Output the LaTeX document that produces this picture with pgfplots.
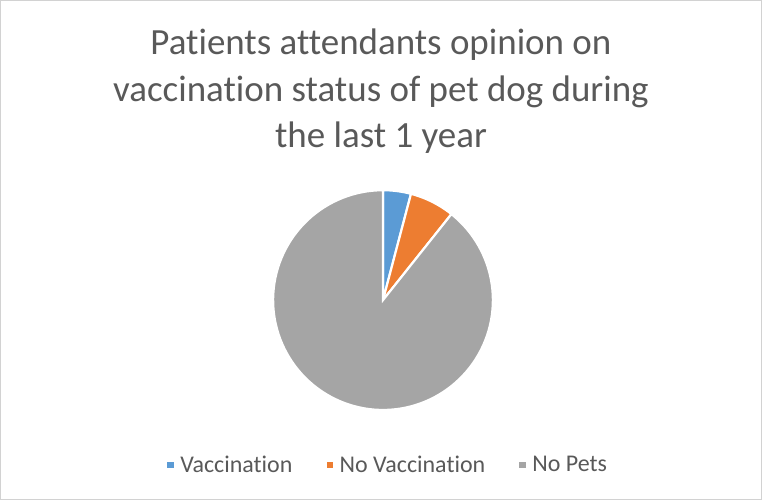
\documentclass[border=0pt]{standalone}
\usepackage{pgfplots}
\pgfplotsset{compat=1.18}
\usepackage{fontspec}
\setmainfont[Ligatures=NoCommon]{Carlito}
\definecolor{cblue}{HTML}{5B9BD5}
\definecolor{corange}{HTML}{ED7D31}
\definecolor{cgray}{HTML}{A5A5A5}
\definecolor{ctext}{HTML}{595959}
% shares (percent)
\def\pA{4.1}
\def\pB{6.6}
\def\pC{89.3}
\begin{document}
\begin{tikzpicture}
\pgfmathsetmacro{\aA}{0}
\pgfmathsetmacro{\aB}{\pA}
\pgfmathsetmacro{\aC}{\pA+\pB}
\pgfmathsetmacro{\aD}{\pA+\pB+\pC}
\begin{axis}[
  width=762pt, height=500pt, scale only axis,
  xmin=0, xmax=762, ymin=0, ymax=500,
  hide axis, clip=false,
  title={Patients attendants opinion on\\vaccination status of pet dog during\\the last 1 year},
  title style={at={(0.5,0.938)}, anchor=north, align=center, font=\fontsize{37}{46.5}\selectfont, text=ctext},
  legend columns=3,
  legend style={draw=none, fill=none, at={(0.508,0.07)}, anchor=center,
    font=\fontsize{24}{26}\selectfont, text=ctext,
    /tikz/every odd column/.append style={column sep=2pt},
    /tikz/every even column/.append style={column sep=30pt}},
  legend image code/.code={\fill[#1] (0pt,-4.5pt) rectangle (9pt,4.5pt);},
]
\addplot[draw=white, line width=2.2pt, fill=cblue, domain=\aA:\aB, samples=20, variable=\t]
  ({383+110*sin(3.6*\t)}, {200+110*cos(3.6*\t)}) -- (axis cs:383,200) -- cycle;
\addlegendentry{Vaccination}
\addplot[draw=white, line width=2.2pt, fill=corange, domain=\aB:\aC, samples=20, variable=\t]
  ({383+110*sin(3.6*\t)}, {200+110*cos(3.6*\t)}) -- (axis cs:383,200) -- cycle;
\addlegendentry{No Vaccination}
\addplot[draw=white, line width=2.2pt, fill=cgray, domain=\aC:\aD, samples=120, variable=\t]
  ({383+110*sin(3.6*\t)}, {200+110*cos(3.6*\t)}) -- (axis cs:383,200) -- cycle;
\addlegendentry{No Pets}
\draw[color=gray!35, line width=0.8pt] (rel axis cs:0,0) rectangle (rel axis cs:1,1);
\end{axis}
\end{tikzpicture}
\end{document}
